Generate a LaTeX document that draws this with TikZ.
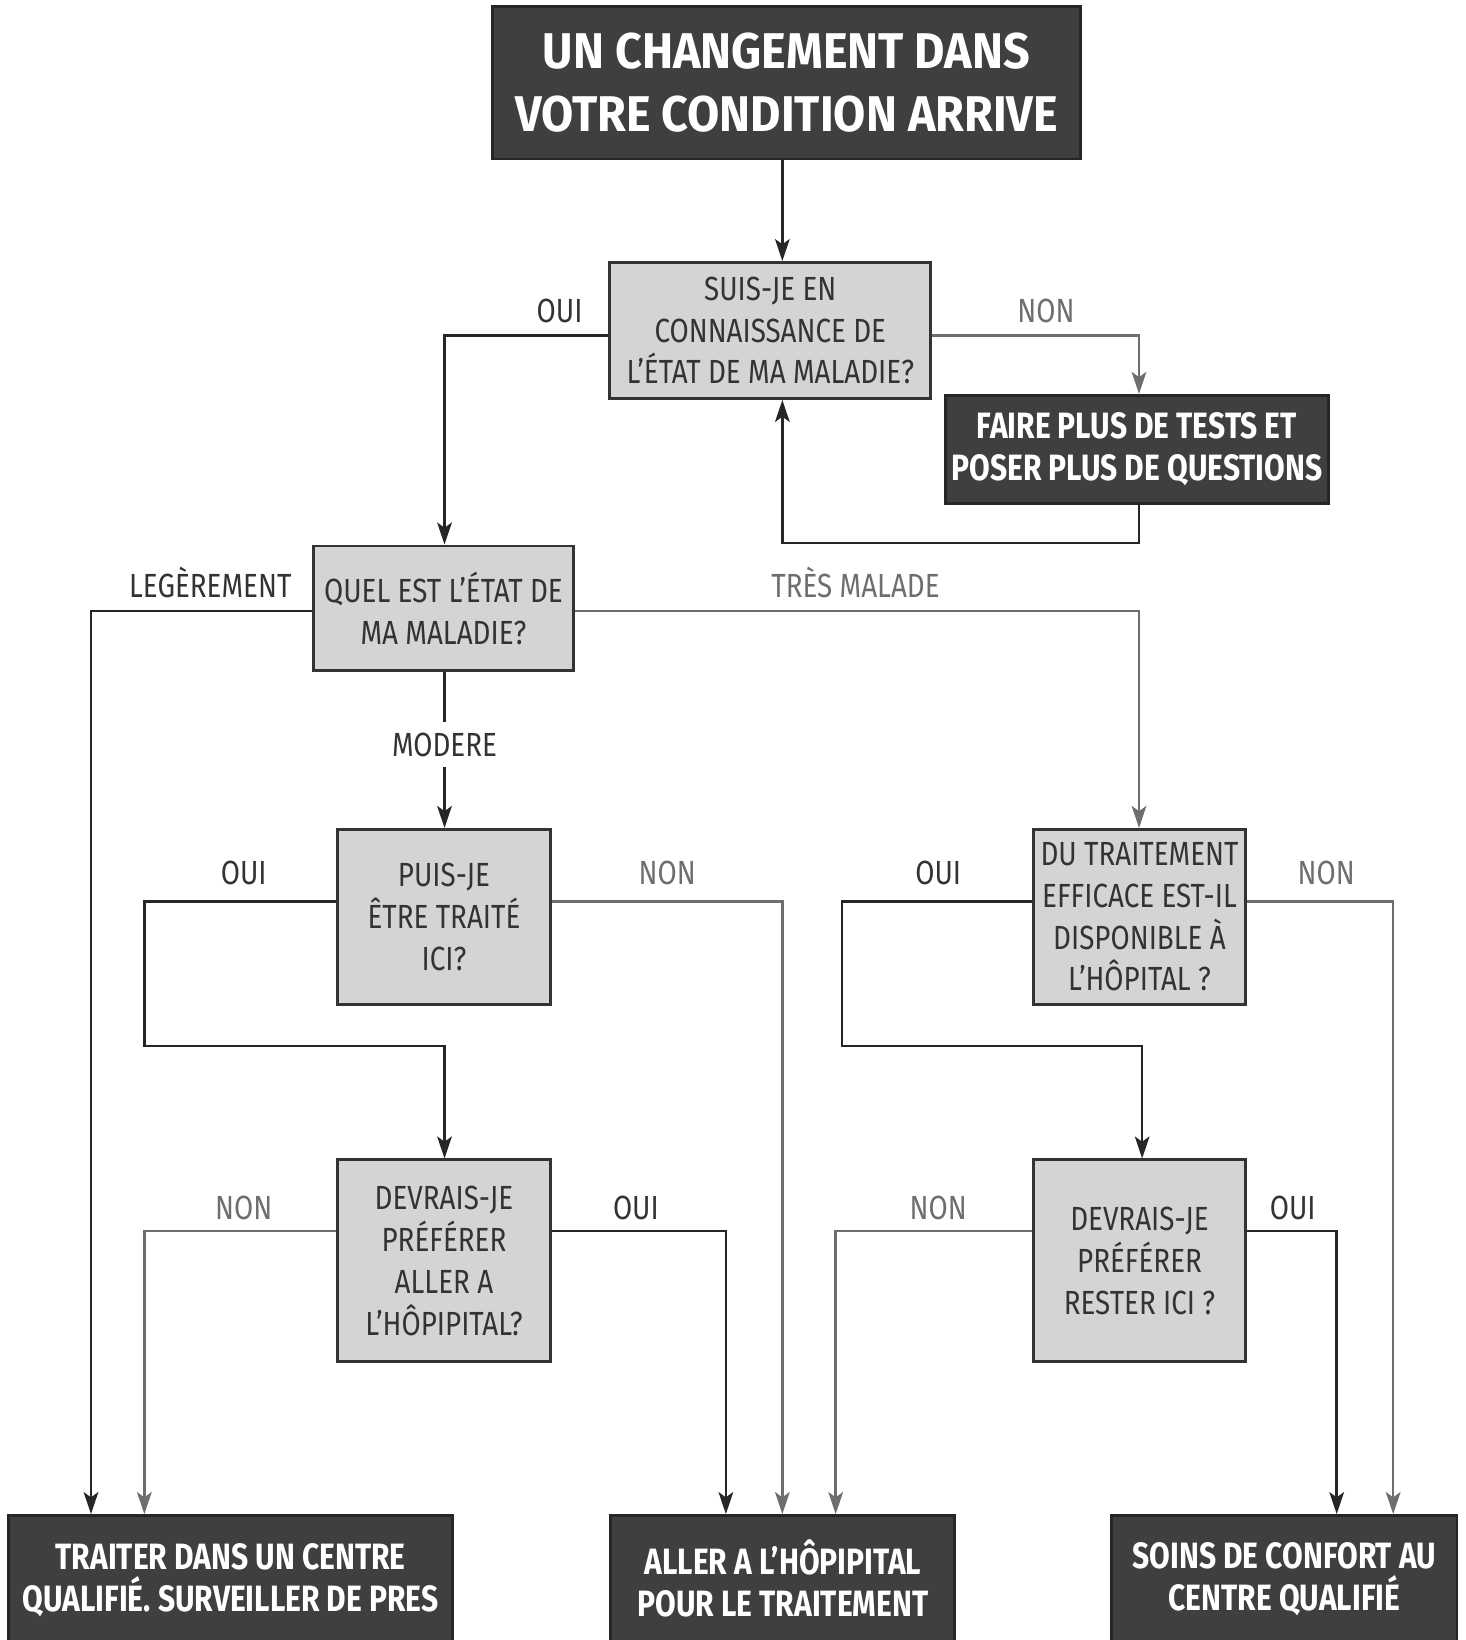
\documentclass[tikz,border=0pt]{standalone}
\usepackage{fontspec}
\setmainfont{Fira Sans}[FakeStretch=0.83]
\newfontfamily\cbold{Fira Sans}[FakeStretch=0.82]
\newfontfamily\ctitle{Fira Sans}[FakeStretch=0.93]
\usetikzlibrary{arrows.meta}
\definecolor{darkbox}{HTML}{3F3F3F}
\definecolor{darkedge}{HTML}{262626}
\definecolor{lightbox}{HTML}{D4D4D4}
\definecolor{boxedge}{HTML}{333333}
\definecolor{blkline}{HTML}{262626}
\definecolor{gryline}{HTML}{6E6E6E}
\definecolor{txt}{HTML}{333333}
\tikzset{
  darkstyle/.style={draw=darkedge, line width=1.4pt, fill=darkbox, text=white, align=center, inner sep=0pt, font=\cbold\bfseries\fontsize{17.5}{20}\selectfont},
  lightstyle/.style={draw=boxedge, line width=1.4pt, fill=lightbox, text=txt, align=center, inner sep=0pt, font=\fontsize{16}{20}\selectfont},
  blk/.style={draw=blkline, line width=1.25pt, -{Stealth[length=10.5pt,width=7pt,inset=2.5pt]}},
  gry/.style={draw=gryline, line width=1.25pt, -{Stealth[length=10.5pt,width=7pt,inset=2.5pt]}},
  lblk/.style={text=txt, inner sep=1pt, font=\fontsize{16}{18}\selectfont},
  lgry/.style={text=gryline, inner sep=1pt, font=\fontsize{16}{18}\selectfont},
}
\begin{document}
\begin{tikzpicture}[x=0.5pt,y=-0.5pt]
\useasboundingbox (0,0) rectangle (1401,1568);
\clip (0,0) rectangle (1401,1568);
\fill[white] (0,0) rectangle (1401,1568);
% boxes
\node[darkstyle, minimum width=281pt, minimum height=73pt, font=\ctitle\bfseries\fontsize{24}{30}\selectfont] (top) at (752,79) {UN CHANGEMENT DANS\\VOTRE CONDITION ARRIVE};
\node[lightstyle, minimum width=153.5pt, minimum height=65pt] (suis) at (736.5,316) {SUIS-JE EN\\CONNAISSANCE DE\\L’ÉTAT DE MA MALADIE?};
\node[darkstyle, minimum width=183pt, minimum height=51.5pt] (faire) at (1087,429.5) {FAIRE PLUS DE TESTS ET\\POSER PLUS DE QUESTIONS};
\node[lightstyle, minimum width=124pt, minimum height=59.5pt] (quel) at (424,581.5) {QUEL EST L’ÉTAT DE\\MA MALADIE?};
\node[lightstyle, minimum width=101.5pt, minimum height=83.5pt] (puis) at (424.5,876.5) {PUIS-JE\\ÊTRE TRAITÉ\\ICI?};
\node[lightstyle, minimum width=101.5pt, minimum height=96.5pt] (dev1) at (424.5,1205.5) {DEVRAIS-JE\\PRÉFÉRER\\ALLER A\\L’HÔPIPITAL?};
\node[lightstyle, minimum width=101.5pt, minimum height=83.5pt] (du) at (1089.5,876.5) {DU TRAITEMENT\\EFFICACE EST-IL\\DISPONIBLE À\\L’HÔPITAL ?};
\node[lightstyle, minimum width=101.5pt, minimum height=96.5pt] (dev2) at (1089.5,1205.5) {DEVRAIS-JE\\PRÉFÉRER\\RESTER ICI ?};
\node[darkstyle, minimum width=212.5pt, minimum height=61.5pt] (traiter) at (220.5,1510.5) {TRAITER DANS UN CENTRE\\QUALIFIÉ. SURVEILLER DE PRES};
\node[darkstyle, minimum width=164.5pt, minimum height=60.5pt] (aller) at (748.5,1509.5) {ALLER A L’HÔPIPITAL\\POUR LE TRAITEMENT};
\node[darkstyle, minimum width=165pt, minimum height=60.5pt] (soins) at (1228,1509.5) {SOINS DE CONFORT AU\\CENTRE QUALIFIÉ};
% connectors
\draw[blk] (top.south -| 748,0) -- (suis.north -| 748,0);
\draw[blk] (suis.west |- 0,321) -- (425,321) -- (quel.north -| 425,0);
\draw[gry] (suis.east |- 0,321) -- (1089,321) -- (faire.north -| 1089,0);
\draw[blk] (faire.south -| 1089,0) -- (1089,519) -- (748,519) -- (suis.south -| 748,0);
\draw[blk] (quel.west |- 0,584) -- (87,584) -- (traiter.north -| 87,0);
\draw[gry] (quel.east |- 0,584) -- (1089,584) -- (du.north -| 1089,0);
\draw[blk] (quel.south -| 425,0) -- (puis.north -| 425,0);
\draw[blk] (puis.west |- 0,862) -- (138,862) -- (138,1000) -- (425,1000) -- (dev1.north -| 425,0);
\draw[gry] (puis.east |- 0,862) -- (748,862) -- (aller.north -| 748,0);
\draw[gry] (dev1.west |- 0,1177) -- (138,1177) -- (traiter.north -| 138,0);
\draw[blk] (dev1.east |- 0,1177) -- (694,1177) -- (aller.north -| 694,0);
\draw[blk] (du.west |- 0,862) -- (805,862) -- (805,1000) -- (1092,1000) -- (dev2.north -| 1092,0);
\draw[gry] (du.east |- 0,862) -- (1332,862) -- (soins.north -| 1332,0);
\draw[gry] (dev2.west |- 0,1177) -- (799,1177) -- (aller.north -| 799,0);
\draw[blk] (dev2.east |- 0,1177) -- (1278,1177) -- (soins.north -| 1278,0);
% labels
\node[lblk] (l1) at (535,297) {OUI};
\node[lgry] (l2) at (1000,297) {NON};
\node[lblk, anchor=east] (l3) at (281,557) {LEGÈREMENT};
\node[lgry] (l4) at (818,557) {TRÈS MALADE};
\node[lblk, fill=white, inner ysep=5pt] (l5) at (425,712) {MODERE};
\node[lblk] (l6) at (233,835) {OUI};
\node[lgry] (l7) at (638,835) {NON};
\node[lblk] (l8) at (897,835) {OUI};
\node[lgry] (l9) at (1268,835) {NON};
\node[lgry] (l10) at (233,1155) {NON};
\node[lblk] (l11) at (608,1155) {OUI};
\node[lgry] (l12) at (897,1155) {NON};
\node[lblk] (l13) at (1236,1155) {OUI};
\end{tikzpicture}
\end{document}
